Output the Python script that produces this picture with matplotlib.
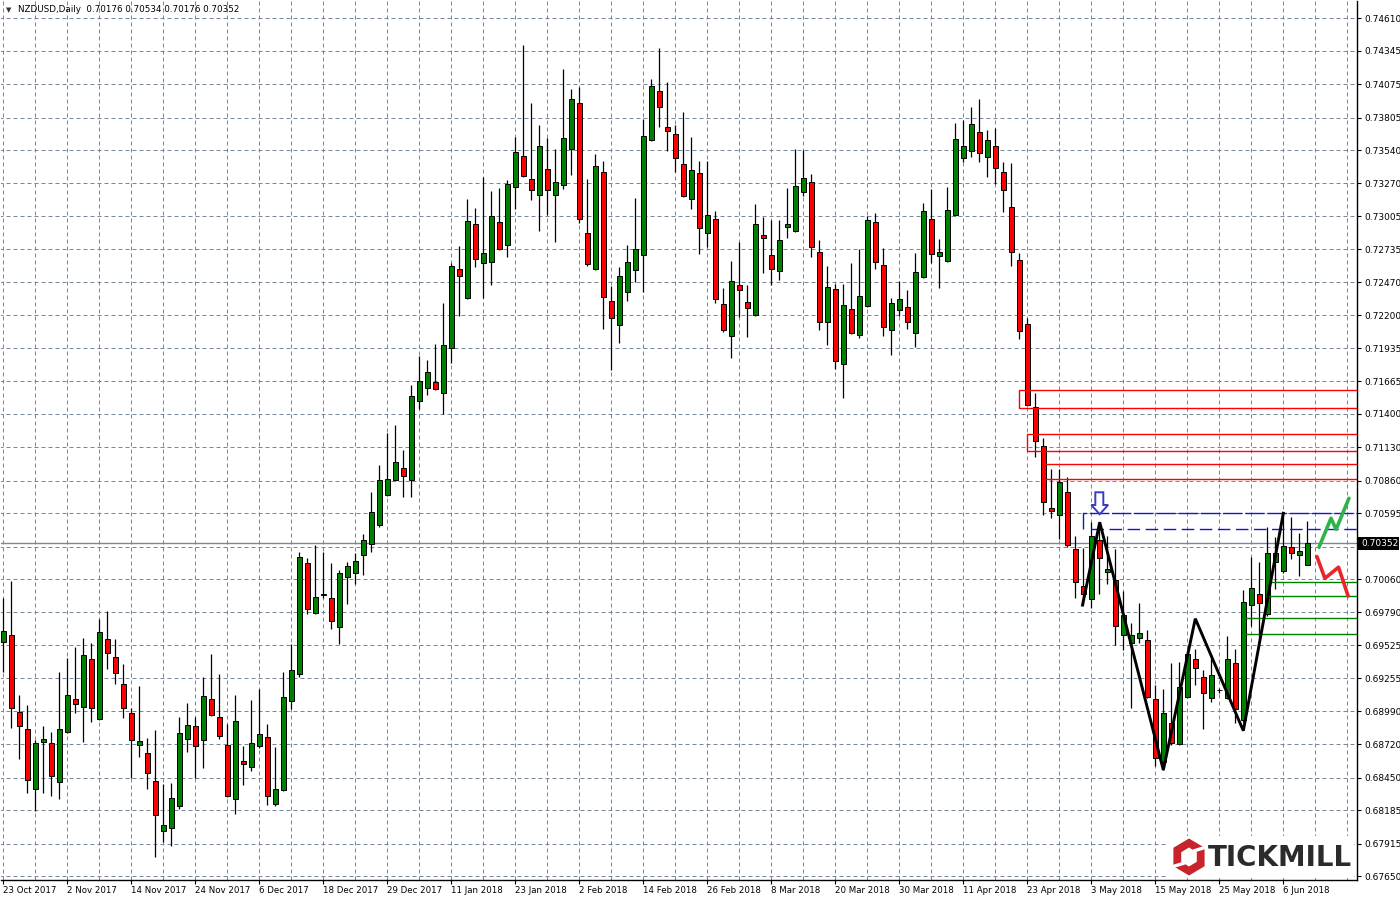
import numpy as np
import matplotlib
matplotlib.use("Agg")
import matplotlib.pyplot as plt
from matplotlib.patches import Rectangle, Polygon

plt.rcParams['font.family'] = ['DejaVu Sans']

# NZDUSD daily candles, 23 Oct 2017 .. 11 Jun 2018 (one entry per bar)
opens = [
    0.69548, 0.69605, 0.68980, 0.68843, 0.68356, 0.68737, 0.68729, 0.68412, 0.68818, 0.69085,
    0.69020, 0.69410, 0.68923, 0.69573, 0.69427, 0.69207, 0.68972, 0.68713, 0.68648, 0.68421,
    0.68015, 0.68039, 0.68217, 0.68762, 0.68867, 0.68753, 0.69085, 0.68939, 0.68713, 0.68274,
    0.68583, 0.68534, 0.68705, 0.68778, 0.68234, 0.68348, 0.69069, 0.69288, 0.70189, 0.69789,
    0.69931, 0.69905, 0.69670, 0.70075, 0.70108, 0.70254, 0.70343, 0.70497, 0.70741, 0.70862,
    0.70959, 0.70862, 0.71503, 0.71608, 0.71657, 0.71568, 0.71933, 0.72573, 0.72338, 0.72939,
    0.72622, 0.72631, 0.72955, 0.72768, 0.73240, 0.73490, 0.73304, 0.73174, 0.73385, 0.73174,
    0.73256, 0.73547, 0.73921, 0.72866, 0.72573, 0.73361, 0.72314, 0.72120, 0.72387, 0.72565,
    0.72687, 0.73620, 0.74018, 0.73726, 0.73669, 0.73426, 0.73142, 0.73353, 0.72866, 0.72980,
    0.72290, 0.72030, 0.72444, 0.72306, 0.72201, 0.72850, 0.72687, 0.72557, 0.72915, 0.72882,
    0.73199, 0.73280, 0.72712, 0.72144, 0.72411, 0.71803, 0.72250, 0.72038, 0.72274, 0.72955,
    0.72606, 0.72079, 0.72241, 0.72266, 0.72055, 0.72508, 0.72980, 0.72679, 0.72639, 0.73012,
    0.73474, 0.73531, 0.73685, 0.73482, 0.73571, 0.73361, 0.73077, 0.72647, 0.72128, 0.71455,
    0.71138, 0.70635, 0.70578, 0.70765, 0.70303, 0.70002, 0.69897, 0.70376, 0.70116, 0.70051,
    0.69605, 0.69540, 0.69581, 0.69564, 0.69086, 0.68575, 0.68891, 0.68721, 0.69102, 0.69410,
    0.69264, 0.69094, 0.69161, 0.69094, 0.69378, 0.68915, 0.69848, 0.69937, 0.69775, 0.70200,
    0.70124, 0.70319, 0.70254, 0.70176,
]
highs = [
    0.69905, 0.70045, 0.69120, 0.69039, 0.68756, 0.68869, 0.68818, 0.69305, 0.69421, 0.69510,
    0.69581, 0.69540, 0.69735, 0.69800, 0.69573, 0.69372, 0.69012, 0.69191, 0.68770, 0.68835,
    0.68399, 0.68404, 0.68939, 0.69053, 0.68942, 0.69264, 0.69451, 0.69288, 0.68888, 0.69118,
    0.68707, 0.69080, 0.69169, 0.68883, 0.68699, 0.69307, 0.69535, 0.70281, 0.70230, 0.70335,
    0.70281, 0.70192, 0.70135, 0.70197, 0.70270, 0.70424, 0.70765, 0.70986, 0.71244, 0.71309,
    0.71106, 0.71632, 0.71868, 0.71835, 0.71965, 0.72298, 0.72625, 0.72760, 0.73142, 0.73069,
    0.73321, 0.73207, 0.73231, 0.73296, 0.73645, 0.74394, 0.73921, 0.73742, 0.73636, 0.73547,
    0.74196, 0.74034, 0.74050, 0.73304, 0.73507, 0.73450, 0.72436, 0.72590, 0.72768, 0.73150,
    0.73791, 0.74115, 0.74367, 0.74091, 0.73742, 0.73850, 0.73648, 0.73450, 0.73453, 0.73045,
    0.72420, 0.72639, 0.72793, 0.72444, 0.73101, 0.72996, 0.72977, 0.72972, 0.73231, 0.73547,
    0.73539, 0.73345, 0.72809, 0.72598, 0.72452, 0.72452, 0.72622, 0.72736, 0.73004, 0.73028,
    0.72744, 0.72338, 0.72476, 0.72403, 0.72703, 0.73110, 0.73228, 0.72817, 0.73239, 0.73760,
    0.73783, 0.73888, 0.73953, 0.73701, 0.73718, 0.73442, 0.73434, 0.72703, 0.72177, 0.71568,
    0.71203, 0.70951, 0.70954, 0.70889, 0.70411, 0.70311, 0.70524, 0.70514, 0.70408, 0.70303,
    0.69962, 0.69702, 0.69865, 0.69645, 0.69200, 0.69167, 0.69378, 0.69386, 0.69459, 0.69492,
    0.69321, 0.69451, 0.69180, 0.69597, 0.69492, 0.69970, 0.70238, 0.70197, 0.70481, 0.70400,
    0.70595, 0.70562, 0.70432, 0.70534,
]
lows = [
    0.69310, 0.68856, 0.68604, 0.68328, 0.68182, 0.68328, 0.68304, 0.68279, 0.68812, 0.68977,
    0.68742, 0.68904, 0.68915, 0.69329, 0.69207, 0.68931, 0.68445, 0.68616, 0.68356, 0.67804,
    0.67926, 0.67893, 0.68198, 0.68661, 0.68445, 0.68528, 0.68952, 0.68762, 0.68296, 0.68157,
    0.68393, 0.68507, 0.68689, 0.68231, 0.68223, 0.68345, 0.69006, 0.69269, 0.69781, 0.69781,
    0.69905, 0.69659, 0.69535, 0.69862, 0.70021, 0.70096, 0.70278, 0.70486, 0.70737, 0.70858,
    0.70725, 0.70725, 0.71443, 0.71551, 0.71596, 0.71398, 0.71811, 0.72193, 0.72335, 0.72590,
    0.72343, 0.72449, 0.72733, 0.72671, 0.73061, 0.73323, 0.73134, 0.72882, 0.73012, 0.72793,
    0.73223, 0.73337, 0.72947, 0.72598, 0.72565, 0.72087, 0.71757, 0.71974, 0.72314, 0.72468,
    0.72392, 0.73612, 0.73731, 0.73531, 0.73361, 0.73158, 0.73066, 0.72700, 0.72757, 0.72303,
    0.72063, 0.71857, 0.72185, 0.72022, 0.72197, 0.72541, 0.72444, 0.72484, 0.72826, 0.72874,
    0.73166, 0.72671, 0.72079, 0.71957, 0.71762, 0.71527, 0.72050, 0.72014, 0.72270, 0.72573,
    0.72030, 0.71876, 0.72193, 0.72087, 0.71941, 0.72500, 0.72622, 0.72424, 0.72635, 0.73008,
    0.73442, 0.73482, 0.73447, 0.73326, 0.73264, 0.73036, 0.72598, 0.72006, 0.71463, 0.71049,
    0.70578, 0.70554, 0.70389, 0.70321, 0.69905, 0.69851, 0.69824, 0.69937, 0.70019, 0.69524,
    0.69483, 0.69012, 0.69540, 0.69097, 0.68542, 0.68510, 0.68713, 0.68713, 0.69094, 0.69199,
    0.68843, 0.69061, 0.69140, 0.69086, 0.68891, 0.68902, 0.69678, 0.69573, 0.69761, 0.69978,
    0.70110, 0.70222, 0.70083, 0.70176,
]
closes = [
    0.69640, 0.69012, 0.68867, 0.68429, 0.68729, 0.68762, 0.68461, 0.68843, 0.69118, 0.69045,
    0.69443, 0.69012, 0.69629, 0.69459, 0.69297, 0.69012, 0.68753, 0.68745, 0.68486, 0.68145,
    0.68064, 0.68282, 0.68810, 0.68875, 0.68705, 0.69110, 0.68956, 0.68786, 0.68304, 0.68907,
    0.68559, 0.68729, 0.68802, 0.68299, 0.68356, 0.69102, 0.69321, 0.70238, 0.69816, 0.69913,
    0.69936, 0.69719, 0.70108, 0.70164, 0.70205, 0.70376, 0.70603, 0.70862, 0.70870, 0.71008,
    0.70895, 0.71544, 0.71665, 0.71738, 0.71600, 0.71957, 0.72598, 0.72517, 0.72963, 0.72655,
    0.72703, 0.73004, 0.72736, 0.73264, 0.73523, 0.73329, 0.73215, 0.73571, 0.73215, 0.73280,
    0.73636, 0.73953, 0.72980, 0.72614, 0.73409, 0.72346, 0.72176, 0.72517, 0.72631, 0.72736,
    0.73653, 0.74059, 0.73888, 0.73694, 0.73474, 0.73166, 0.73377, 0.72907, 0.73012, 0.72330,
    0.72079, 0.72476, 0.72403, 0.72258, 0.72939, 0.72826, 0.72573, 0.72809, 0.72939, 0.73247,
    0.73312, 0.72752, 0.72144, 0.72428, 0.71827, 0.72282, 0.72055, 0.72355, 0.72972, 0.72631,
    0.72103, 0.72298, 0.72330, 0.72144, 0.72549, 0.73045, 0.72695, 0.72712, 0.73053, 0.73628,
    0.73571, 0.73750, 0.73515, 0.73620, 0.73393, 0.73215, 0.72712, 0.72071, 0.71471, 0.71179,
    0.70684, 0.70611, 0.70846, 0.70335, 0.70035, 0.69937, 0.70408, 0.70230, 0.70140, 0.69678,
    0.69767, 0.69605, 0.69621, 0.69102, 0.68607, 0.68972, 0.68729, 0.69183, 0.69451, 0.69337,
    0.69134, 0.69280, 0.69161, 0.69410, 0.69004, 0.69873, 0.69986, 0.69865, 0.70270, 0.70273,
    0.70327, 0.70270, 0.70286, 0.70352,
]

date_labels = ['23 Oct 2017', '2 Nov 2017', '14 Nov 2017', '24 Nov 2017', '6 Dec 2017',
               '18 Dec 2017', '29 Dec 2017', '11 Jan 2018', '23 Jan 2018', '2 Feb 2018',
               '14 Feb 2018', '26 Feb 2018', '8 Mar 2018', '20 Mar 2018', '30 Mar 2018',
               '11 Apr 2018', '23 Apr 2018', '3 May 2018', '15 May 2018', '25 May 2018',
               '6 Jun 2018']
price_labels = ['0.74610', '0.74345', '0.74075', '0.73805', '0.73540', '0.73270', '0.73005',
                '0.72735', '0.72470', '0.72200', '0.71935', '0.71665', '0.71400', '0.71130',
                '0.70860', '0.70595', '0.70325', '0.70060', '0.69790', '0.69525', '0.69255',
                '0.68990', '0.68720', '0.68450', '0.68185', '0.67915', '0.67650']
bid = 0.70352

# drawn objects (bar index, price)
zone_start = [127, 128, 130]
zone_top = [0.71592, 0.71236, 0.70992]
zone_bottom = [0.71446, 0.71100, 0.70870]
support_start = [158, 158, 155, 155]
support_level = [0.70035, 0.69921, 0.69743, 0.69613]
zigzag_x = [134.9, 137.05, 145, 149, 155, 160]
zigzag_y = [0.69850, 0.70522, 0.68512, 0.69740, 0.68831, 0.70595]
bull_x = [164.46, 165.96, 166.6, 168.2]
bull_y = [0.70319, 0.70554, 0.70465, 0.70716]
bear_x = [164.2, 165.2, 166.9, 168.1]
bear_y = [0.70243, 0.70067, 0.70157, 0.69924]
blue_top, blue_low = 0.70595, 0.70465

W, H = 1400, 900
fig = plt.figure(figsize=(14, 9), dpi=100)
ax = fig.add_axes([0.5 / W, 20 / H, 1356.5 / W, 879 / H])
ax.set_xlim(-0.35, 169.21)
ax.set_ylim(0.67620, 0.74750)

x = np.arange(len(opens))
o = np.array(opens)
c = np.array(closes)

# grid
grid_kw = dict(color='#778899', lw=0.72, linestyles=(0, (4, 3)), zorder=1)
ax.hlines([float(s) for s in price_labels], -1, 170, **grid_kw)
ax.vlines(np.arange(0, 170, 4), 0.6, 0.8, **grid_kw)

# candles
ax.vlines(x, lows, highs, color='black', lw=0.9, zorder=3)
body_col = np.where(c > o, '#008000', np.where(c < o, '#ff0000', 'black'))
ax.bar(x, np.maximum(np.abs(c - o), 0.000012), bottom=np.minimum(o, c), width=0.6,
       color=body_col, edgecolor='black', linewidth=0.7, zorder=4)

# bid line
ax.axhline(bid, color='#778899', lw=1, zorder=2)

# resistance zones
for xs, top, bot in zip(zone_start, zone_top, zone_bottom):
    ax.add_patch(Rectangle((xs, bot), 60, top - bot, fill=False, ec='#ff0000', lw=1, zorder=5))

# supports
for xs, lv in zip(support_start, support_level):
    ax.plot([xs, 171], [lv, lv], color='#008000', lw=1, zorder=5)

# blue levels and arrow
ax.plot([135, 135, 171], [blue_low, blue_top, blue_top], color='#1515c8', lw=1,
        dashes=(14, 2), zorder=5)
ax.plot([136, 171], [blue_low, blue_low], color='#1515c8', lw=1, dashes=(9, 4), zorder=5)
arrow = [(136.5, 0.70765), (137.5, 0.70765), (137.5, 0.70662), (138.1, 0.70662),
         (137.05, 0.70587), (136.0, 0.70662), (136.5, 0.70662)]
ax.add_patch(Polygon(arrow, closed=True, fc='white', ec='#3a3ac8', lw=1.4, zorder=6))

# pattern lines
ax.plot(zigzag_x, zigzag_y, color='black', lw=2.1, zorder=6, solid_joinstyle='miter')
ax.plot(bull_x, bull_y, color='#2db34a', lw=2.6, zorder=6, solid_capstyle='round')
ax.plot(bear_x, bear_y, color='#e8262c', lw=2.6, zorder=6, solid_capstyle='round')

# axes styling
for side in ['top', 'left']:
    ax.spines[side].set_visible(False)
for side in ['right', 'bottom']:
    ax.spines[side].set_color('black')
    ax.spines[side].set_linewidth(1)
ax.yaxis.tick_right()
ax.set_yticks([float(s) for s in price_labels])
# the level right under the bid tag is hidden by the tag, as in the terminal
ax.set_yticklabels(['' if abs(float(s) - bid) < 0.0005 else s for s in price_labels])
ax.set_xticks(np.arange(0, len(date_labels) * 8, 8))
ax.set_xticklabels(date_labels)
for lbl in ax.get_xticklabels():
    lbl.set_ha('left')
ax.tick_params(axis='y', length=3, width=0.8, pad=2, labelsize=6.5, colors='black')
ax.tick_params(axis='x', length=3, width=0.8, pad=1.5, labelsize=6.2, colors='black')

# header
fig.text(6 / W, 1 - 10 / H, '\u25bc', fontsize=5, color='#333333', va='center')
fig.text(18 / W, 1 - 10 / H, 'NZDUSD,Daily  0.70176 0.70534 0.70176 0.70352',
         fontsize=6.3, color='black', va='center')

# current price tag
fig.add_artist(Rectangle((1358 / W, 1 - 550 / H), 41 / W, 13 / H, transform=fig.transFigure,
                         fc='black', ec='none', zorder=5))
fig.text(1361 / W, 1 - 543.5 / H, f'{bid:.5f}', fontsize=6.5, color='white', va='center',
         zorder=6)

# logo
lax = fig.add_axes([1168 / W, 22 / H, 186 / W, 42 / H])
lax.set_xlim(1168, 1354)
lax.set_ylim(878, 836)
lax.axis('off')
lax.add_patch(Rectangle((1168, 836), 186, 42, fc='white', ec='none'))
ang = np.deg2rad(np.arange(6) * 60 + 90)
cx, cy = 1189, 857
outer = np.c_[cx + 18 * np.cos(ang), cy + 18.5 * np.sin(ang)]
inner = np.c_[cx + 9 * np.cos(ang), cy + 9.5 * np.sin(ang)]
lax.add_patch(Polygon(outer, closed=True, fc='#c8242b', ec='none'))
lax.add_patch(Polygon(inner, closed=True, fc='white', ec='none'))
lax.plot([1195, 1210], [850.5, 846], color='white', lw=2.4)
lax.plot([1168, 1183], [868, 863.5], color='white', lw=2.4)
lax.text(1208, 857.5, 'TICKMILL', fontsize=20, fontweight='bold', color='#2b2b2b',
         ha='left', va='center')

fig.savefig('out.png', dpi=100, facecolor='white')
